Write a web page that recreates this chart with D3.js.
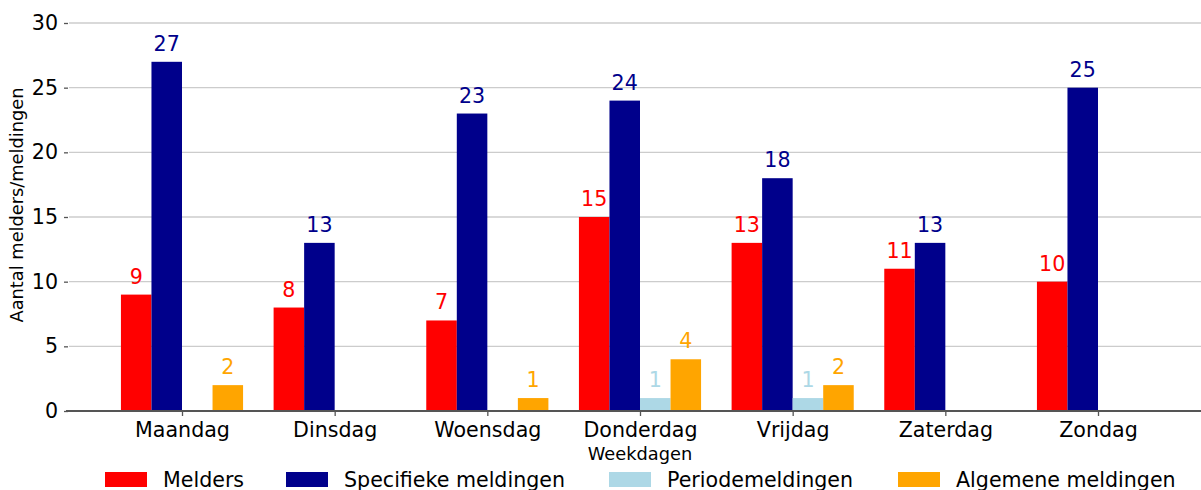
<!DOCTYPE html>
<html>
<head>
<meta charset="utf-8">
<script src="https://cdn.jsdelivr.net/npm/d3@7"></script>
<style>
  body { margin: 0; background: #fff; }
  svg { display: block; font-family: "DejaVu Sans", sans-serif; }
</style>
</head>
<body>
<div id="chart"></div>
<script>
const days = ['Maandag', 'Dinsdag', 'Woensdag', 'Donderdag', 'Vrijdag', 'Zaterdag', 'Zondag'];
const seriesNames = ['Melders', 'Specifieke meldingen', 'Periodemeldingen', 'Algemene meldingen'];
const seriesColors = ['#ff0000', '#00008b', '#add8e6', '#ffa500'];
const melders = [9, 8, 7, 15, 13, 11, 10];
const specifiek = [27, 13, 23, 24, 18, 13, 25];
const periode = [0, 0, 0, 1, 1, 0, 0];
const algemeen = [2, 0, 1, 4, 2, 0, 0];
const yTicks = [0, 5, 10, 15, 20, 25, 30];

const values = [melders, specifiek, periode, algemeen];

const width = 1201, height = 490;
const bigFont = '20.6px', smallFont = '17.8px';
const svg = d3.select('#chart').append('svg')
    .attr('width', width)
    .attr('height', height);

// scales
const x = d3.scalePoint().domain(days).range([182, 1098]);
const barW = x.step() * 0.2;
const xInner = d3.scaleBand().domain(seriesNames).range([-2 * barW, 2 * barW]);
const y = d3.scaleLinear().domain([0, 30]).range([411, 23]);

// grid
svg.append('g')
    .selectAll('line')
    .data(yTicks)
    .enter()
    .append('line')
    .attr('x1', 69).attr('x2', width)
    .attr('y1', d => y(d)).attr('y2', d => y(d))
    .style('stroke', '#cccccc')
    .style('stroke-width', '1.3px');

// y axis (no spine)
const yAxis = svg.append('g')
    .attr('transform', 'translate(68,0)')
    .call(d3.axisLeft(y).tickValues(yTicks).tickSize(4).tickPadding(6));
yAxis.select('.domain').remove();
yAxis.selectAll('line').style('stroke', '#555').style('stroke-width', '1.3px');
yAxis.selectAll('text')
    .style('font-size', bigFont)
    .style('fill', '#000')
    .style('font-family', '"DejaVu Sans", sans-serif');

// bars
seriesNames.forEach((name, si) => {
    const g = svg.append('g');
    const data = days.map((d, i) => ({ day: d, v: values[si][i] })).filter(d => d.v > 0);
    g.selectAll('rect')
        .data(data)
        .enter()
        .append('rect')
        .attr('x', d => x(d.day) + xInner(name))
        .attr('width', xInner.bandwidth())
        .attr('y', d => y(d.v))
        .attr('height', d => y(0) - y(d.v))
        .style('fill', seriesColors[si]);
    g.selectAll('text')
        .data(data)
        .enter()
        .append('text')
        .attr('x', d => x(d.day) + xInner(name) + xInner.bandwidth() / 2)
        .attr('y', d => y(d.v) - 11)
        .attr('text-anchor', 'middle')
        .text(d => d.v)
        .style('fill', seriesColors[si])
        .style('font-size', bigFont);
});

// x axis
const xAxis = svg.append('g')
    .attr('transform', `translate(0,${y(0)})`)
    .call(d3.axisBottom(x).tickSize(5).tickPadding(6));
xAxis.select('.domain').remove();
xAxis.selectAll('line').style('stroke', '#555').style('stroke-width', '1.3px');
xAxis.selectAll('text')
    .style('font-size', bigFont)
    .style('fill', '#000')
    .style('font-family', '"DejaVu Sans", sans-serif');
svg.append('line')
    .attr('x1', 66).attr('x2', width)
    .attr('y1', y(0)).attr('y2', y(0))
    .style('stroke', '#555')
    .style('stroke-width', '2px');

// axis titles
svg.append('text')
    .attr('x', x('Donderdag'))
    .attr('y', 460)
    .attr('text-anchor', 'middle')
    .text('Weekdagen')
    .style('font-size', smallFont);
svg.append('text')
    .attr('transform', 'translate(23,205) rotate(-90)')
    .attr('text-anchor', 'middle')
    .text('Aantal melders/meldingen')
    .style('font-size', smallFont);

// legend
const legendX = [105, 286, 609, 898];
const legend = svg.append('g')
    .selectAll('g')
    .data(seriesNames)
    .enter()
    .append('g')
    .attr('transform', (d, i) => `translate(${legendX[i]},472)`);
legend.append('rect')
    .attr('width', 42)
    .attr('height', 15)
    .style('fill', (d, i) => seriesColors[i]);
legend.append('text')
    .attr('x', 58)
    .attr('y', 15)
    .text(d => d)
    .style('font-size', bigFont);
</script>
</body>
</html>
